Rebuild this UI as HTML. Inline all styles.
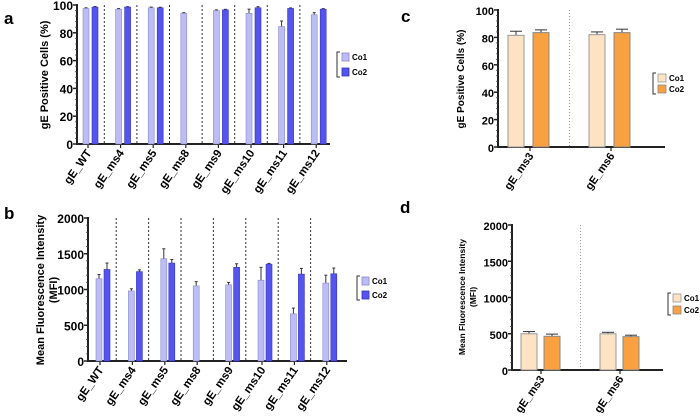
<!DOCTYPE html>
<html><head><meta charset="utf-8"><style>
body{margin:0;background:#fff;}
svg{font-family:"Liberation Sans",Arial,sans-serif;font-weight:bold;}
</style></head><body>
<svg id="s" width="700" height="413" viewBox="0 0 700 413" xmlns="http://www.w3.org/2000/svg">
<text x="4" y="24" font-size="17">a</text>
<text x="4" y="219" font-size="17">b</text>
<text x="401" y="22" font-size="17">c</text>
<text x="400" y="213" font-size="17">d</text>
<text transform="translate(48,75) rotate(-90)" text-anchor="middle" font-size="11">gE Positive  Cells (%)</text>
<text transform="translate(44,290) rotate(-90)" text-anchor="middle" font-size="11">Mean Fluorescence Intensity</text>
<text transform="translate(57,290) rotate(-90)" text-anchor="middle" font-size="11">(MFI)</text>
<text transform="translate(464,79) rotate(-90)" text-anchor="middle" font-size="10">gE Positive Cells (%)</text>
<text transform="translate(465,297) rotate(-90)" text-anchor="middle" font-size="8.5">Mean Fluorescence Intensity</text>
<text transform="translate(476,297) rotate(-90)" text-anchor="middle" font-size="8.5">(MFI)</text>
</svg>
<script>
const catsAB = ["gE_WT","gE_ms4","gE_ms5","gE_ms8","gE_ms9","gE_ms10","gE_ms11","gE_ms12"];
const aCo1 = [97.5,97,98,94,96,94,84.5,93];
const aCo1Err = [0.5,0.5,0.5,0.5,0.5,3,4,1.5];
const aCo2 = [98.5,98.5,98,null,96.5,98,97.5,97];
const aCo2Err = [0.4,0.3,0.4,null,0.4,0.8,0.4,0.4];
const aTicks = [0,20,40,60,80,100];
const bCo1 = [1150,980,1430,1050,1065,1130,660,1090];
const bCo1Err = [60,30,140,60,35,180,80,110];
const bCo2 = [1280,1250,1370,null,1310,1355,1215,1220];
const bCo2Err = [90,25,50,null,50,10,80,80];
const bTicks = [0,500,1000,1500,2000];
const catsCD = ["gE_ms3","gE_ms6"];
const cCo1 = [81.5,82];
const cCo1Err = [3,2];
const cCo2 = [83.5,83.5];
const cCo2Err = [2,2.5];
const cTicks = [0,20,40,60,80,100];
const dCo1 = [500,500];
const dCo1Err = [30,20];
const dCo2 = [465,460];
const dCo2Err = [30,20];
const dTicks = [0,500,1000,1500,2000];

const svg=document.getElementById('s');
const NS='http://www.w3.org/2000/svg';
function mk(tag,attrs,name){const e=document.createElementNS(NS,tag);for(const k in attrs)e.setAttribute(k,attrs[k]);


svg.appendChild(e);return e;}

function panel(p){
  const y=v=>p.y0-(v-p.min)/(p.max-p.min)*(p.y0-p.y1);
  const x=i=>p.c0+i*p.step;
  for(let i=0;i<p.cats.length-1;i++){const dx=(x(i)+x(i+1))/2+p.divOff;
    mk('line',{x1:dx,x2:dx,y1:p.y1,y2:p.y0,stroke:p.divCol,'stroke-width':1,'stroke-dasharray':p.dash},p.id+'-divider');}
  mk('line',{x1:p.ax,x2:p.ax,y1:p.y1-1,y2:p.y0+1,stroke:'#222','stroke-width':2},p.id+'-y-axis');
  mk('line',{x1:p.ax,x2:p.xEnd,y1:p.y0,y2:p.y0,stroke:'#222','stroke-width':2},p.id+'-x-axis');
  p.ticks.forEach(t=>{mk('line',{x1:p.ax-4,x2:p.ax,y1:y(t),y2:y(t),stroke:'#222','stroke-width':1.5},p.id+'-y-tick');
    const tx=mk('text',{x:p.ax-4,y:y(t)+5,'text-anchor':'end','font-size':p.tfs},p.id+'-y-tick-label');tx.textContent=t;});
  const n=(p.ticks.length-1)*5;for(let k=1;k<n;k++){if(k%5==0)continue;const yy=p.y0-(p.y0-p.y1)*k/n;
    mk('line',{x1:p.ax-2,x2:p.ax,y1:yy,y2:yy,stroke:'#444','stroke-width':0.8},p.id+'-y-minor-tick');}
  p.cats.forEach((c,i)=>{
    mk('line',{x1:x(i),x2:x(i),y1:p.y0,y2:p.y0+4,stroke:'#222','stroke-width':1.2},p.id+'-x-tick');
    const t=mk('text',{transform:`translate(${x(i)+4},${p.y0+9}) rotate(-55)`,'text-anchor':'end','font-size':p.lfs},p.id+'-x-label');t.textContent=c;
    [[p.s1,p.e1,p.off1,p.col1,p.str1,'co1'],[p.s2,p.e2,p.off2,p.col2,p.str2,'co2']].forEach(([s,e,off,col,str,nm])=>{
      const v=s[i];if(v==null)return;const bx=x(i)+off;
      const top=y(v+e[i]);
      mk('line',{x1:bx+p.bw/2,x2:bx+p.bw/2,y1:top,y2:y(v),stroke:'#333','stroke-width':1},p.id+'-error-bar');
      mk('line',{x1:bx+p.bw/2-p.cap,x2:bx+p.bw/2+p.cap,y1:top,y2:top,stroke:'#333','stroke-width':1},p.id+'-error-cap');
      mk('rect',{x:bx,y:y(v),width:p.bw,height:p.y0-y(v),fill:col,stroke:str,'stroke-width':p.sw},p.id+'-bar-'+nm);
    });
  });
  const L=p.leg;
  mk('path',{d:`M${L.x-2},${L.y-1} h-3 v${L.dy+L.bh+2} h3`,fill:'none',stroke:'#333','stroke-width':1},p.id+'-legend-bracket');
  [[p.col1,p.str1,'Co1'],[p.col2,p.str2,'Co2']].forEach(([col,str,lab],k)=>{
    mk('rect',{x:L.x,y:L.y+k*L.dy,width:L.bw,height:L.bh,fill:col,stroke:str,'stroke-width':0.8},p.id+'-legend-swatch');
    const t=mk('text',{x:L.x+L.bw+3,y:L.y+k*L.dy+L.bh-1,'font-size':L.fs},p.id+'-legend-entry');t.textContent=lab;});
}
const pur1='#bdbdf5',pur2='#5555ee',or1='#fde2c4',or2='#f9a040';
panel({id:'a',cats:catsAB,s1:aCo1,e1:aCo1Err,s2:aCo2,e2:aCo2Err,ticks:aTicks,min:0,max:100,y0:144,y1:5,ax:77,xEnd:330,c0:88,step:32.6,
  off1:-5,off2:4,bw:6,cap:1.5,col1:pur1,col2:pur2,str1:'#8888cc',str2:'#3333bb',sw:0.6,divCol:'#333',dash:'2,2',divOff:0,tfs:12,lfs:11.5,
  leg:{x:342,y:53,dy:15,bw:7,bh:8,fs:8}});
panel({id:'b',cats:catsAB,s1:bCo1,e1:bCo1Err,s2:bCo2,e2:bCo2Err,ticks:bTicks,min:0,max:2000,y0:361,y1:218,ax:88,xEnd:347,c0:100,step:32.4,
  off1:-4,off2:4,bw:6,cap:1.5,col1:pur1,col2:pur2,str1:'#8888cc',str2:'#3333bb',sw:0.6,divCol:'#333',dash:'2,2',divOff:0,tfs:12,lfs:11.5,
  leg:{x:362,y:277,dy:14,bw:7,bh:8,fs:8}});
panel({id:'c',cats:catsCD,s1:cCo1,e1:cCo1Err,s2:cCo2,e2:cCo2Err,ticks:cTicks,min:0,max:100,y0:147,y1:10,ax:498,xEnd:665,c0:530,step:81,
  off1:-22,off2:3,bw:16,cap:6,col1:or1,col2:or2,str1:'#999',str2:'#888',sw:1,divCol:'#999',dash:'1,2',divOff:-1,tfs:11,lfs:11,
  leg:{x:658,y:74,dy:11,bw:8,bh:8,fs:8}});
panel({id:'d',cats:catsCD,s1:dCo1,e1:dCo1Err,s2:dCo2,e2:dCo2Err,ticks:dTicks,min:0,max:2000,y0:370,y1:225,ax:512,xEnd:663,c0:541,step:79,
  off1:-20,off2:3,bw:16,cap:6,col1:or1,col2:or2,str1:'#999',str2:'#888',sw:1,divCol:'#999',dash:'1,2',divOff:0,tfs:11,lfs:11,
  leg:{x:673,y:294,dy:12,bw:8,bh:8,fs:8}});
</script>
</body></html>
